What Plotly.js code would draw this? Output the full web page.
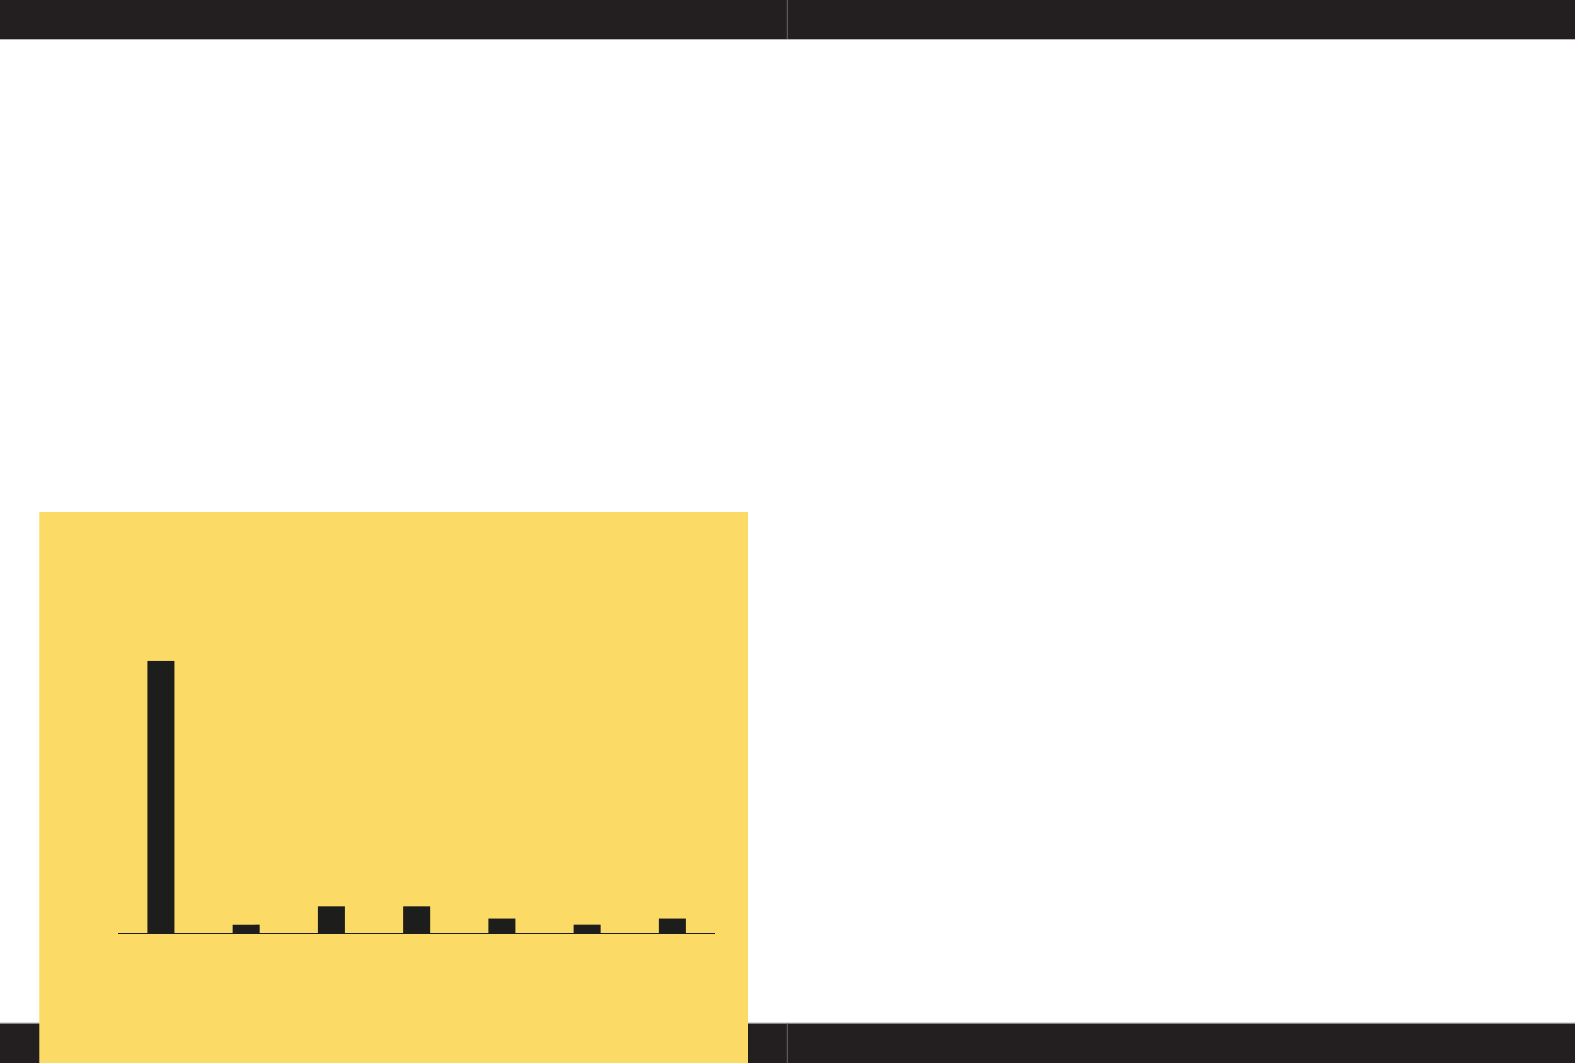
<!DOCTYPE html>
<html>
<head>
<meta charset="utf-8">
<script src="https://cdn.plot.ly/plotly-3.0.1.min.js"></script>
<style>html,body{margin:0;padding:0;background:#fff;}#chart{width:1575px;height:1063px;}</style>
</head>
<body>
<div id="chart"></div>
<script>
var categories = ["A", "B", "C", "D", "E", "F", "G"];
var values = [98, 3, 9.6, 9.6, 5.2, 3, 5.2];

var W = 1575, H = 1063;
function px(x){ return x / W; }
function py(y){ return 1 - y / H; }

var trace = {
  type: "bar",
  x: categories,
  y: values,
  marker: { color: "#1d1d1b", line: { width: 0 } },
  hoverinfo: "none"
};

var layout = {
  width: W, height: H,
  margin: { l: 0, r: 0, t: 0, b: 0, pad: 0 },
  paper_bgcolor: "#ffffff",
  plot_bgcolor: "rgba(0,0,0,0)",
  showlegend: false,
  bargap: 0.683,
  xaxis: {
    domain: [px(118.3), px(715)],
    showline: true, linecolor: "#1d1d1b", linewidth: 1.4,
    showticklabels: false, ticks: "", showgrid: false, zeroline: false,
    fixedrange: true
  },
  yaxis: {
    domain: [py(933), py(660.7)],
    range: [0, 98],
    showline: false, showticklabels: false, ticks: "", showgrid: false, zeroline: false,
    fixedrange: true
  },
  shapes: [
    { type: "rect", xref: "paper", yref: "paper", layer: "below",
      x0: 0, x1: 1, y0: py(39), y1: 1, fillcolor: "#231f20", line: { width: 0 } },
    { type: "line", xref: "paper", yref: "paper", layer: "below",
      x0: 0, x1: 1, y0: py(39.5), y1: py(39.5), line: { color: "#b8b6b6", width: 1 } },
    { type: "rect", xref: "paper", yref: "paper", layer: "below",
      x0: 0, x1: 1, y0: 0, y1: py(1023.3), fillcolor: "#231f20", line: { width: 0 } },
    { type: "line", xref: "paper", yref: "paper", layer: "below",
      x0: 0, x1: 1, y0: py(1023), y1: py(1023), line: { color: "#b8b6b6", width: 1 } },
    { type: "line", xref: "paper", yref: "paper", layer: "below",
      x0: px(787.3), x1: px(787.3), y0: py(39), y1: 1, line: { color: "#6a6767", width: 1 } },
    { type: "line", xref: "paper", yref: "paper", layer: "below",
      x0: px(787.3), x1: px(787.3), y0: 0, y1: py(1023.3), line: { color: "#6a6767", width: 1 } },
    { type: "rect", xref: "paper", yref: "paper", layer: "below",
      x0: px(39.3), x1: px(748), y0: 0, y1: py(512), fillcolor: "#fbdb66", line: { width: 0 } }
  ]
};

Plotly.newPlot("chart", [trace], layout, { displayModeBar: false, staticPlot: true });
</script>
</body>
</html>
